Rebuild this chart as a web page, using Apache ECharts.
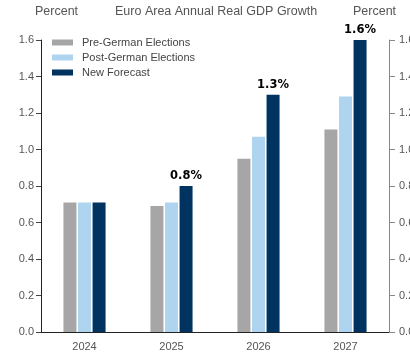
<!DOCTYPE html>
<html>
<head>
<meta charset="utf-8">
<script src="https://cdn.jsdelivr.net/npm/echarts@6/dist/echarts.min.js"></script>
<style>
html,body{margin:0;padding:0;background:#fff;}
#chart{width:410px;height:353px;}
</style>
</head>
<body>
<div id="chart"></div>
<script>
// Euro area annual real GDP growth, percent
const years = ['2024', '2025', '2026', '2027'];
const preElection = [0.71, 0.69, 0.95, 1.11];
const postElection = [0.71, 0.71, 1.07, 1.29];
const newForecast = [0.71, 0.8, 1.3, 1.6];
const labelledYears = ['2025', '2026', '2027'];

const chart = echarts.init(document.getElementById('chart'));
const FONT = 'Liberation Sans, Arial, sans-serif';
const axisFont = { fontFamily: FONT, fontSize: 11, color: '#555' };
const headFont = { fontFamily: FONT, fontSize: 12.5, fontWeight: 'normal', color: '#555' };

chart.setOption({
  animation: false,
  backgroundColor: '#fff',
  title: [
    { text: 'Euro Area Annual Real GDP Growth', left: 115, top: 5, padding: 0, textStyle: headFont },
    { text: 'Percent', left: 35, top: 5, padding: 0, textStyle: headFont },
    { text: 'Percent', left: 353, top: 5, padding: 0, textStyle: headFont }
  ],
  legend: {
    orient: 'vertical', left: 52, top: 37, padding: 0, itemWidth: 21, itemHeight: 6, itemGap: 4,
    icon: 'rect',
    textStyle: { fontFamily: FONT, fontSize: 11, color: '#444', padding: [0, 0, 0, 4] },
    data: ['Pre-German Elections', 'Post-German Elections', 'New Forecast']
  },
  grid: { left: 41, right: 21, top: 40, bottom: 21, outerBoundsMode: 'none', containLabel: false },
  xAxis: {
    type: 'category', data: years,
    axisLine: { lineStyle: { color: '#222', width: 1 } },
    axisTick: { alignWithLabel: true, length: 4, lineStyle: { color: '#444' } },
    axisLabel: Object.assign({ margin: 9 }, axisFont)
  },
  yAxis: [
    {
      type: 'value', min: 0, max: 1.6, interval: 0.2, position: 'left',
      axisLine: { show: true, lineStyle: { color: '#222' } },
      axisTick: { show: true, length: 5, lineStyle: { color: '#444' } },
      axisLabel: Object.assign({ margin: 7, formatter: v => v.toFixed(1) }, axisFont),
      splitLine: { show: false }
    },
    {
      type: 'value', min: 0, max: 1.6, interval: 0.2, position: 'right',
      axisLine: { show: true, lineStyle: { color: '#888' } },
      axisTick: { show: true, length: 6, lineStyle: { color: '#888' } },
      axisLabel: Object.assign({ margin: 10, formatter: v => v.toFixed(1) }, axisFont),
      splitLine: { show: false }
    }
  ],
  series: [
    { name: 'Pre-German Elections', type: 'bar', data: preElection, barWidth: 13, barGap: '12%',
      itemStyle: { color: '#A6A6A6' } },
    { name: 'Post-German Elections', type: 'bar', data: postElection, barWidth: 13, barGap: '12%',
      itemStyle: { color: '#AED4F0' } },
    { name: 'New Forecast', type: 'bar', data: newForecast, barWidth: 13, barGap: '12%',
      itemStyle: { color: '#00335F' },
      label: {
        show: true, position: 'top', distance: 4,
        fontFamily: 'DejaVu Sans, sans-serif', fontWeight: 'bold', fontSize: 11.5, color: '#000',
        formatter: p => labelledYears.includes(p.name) ? p.value.toFixed(1) + '%' : ''
      } }
  ]
});
</script>
</body>
</html>
